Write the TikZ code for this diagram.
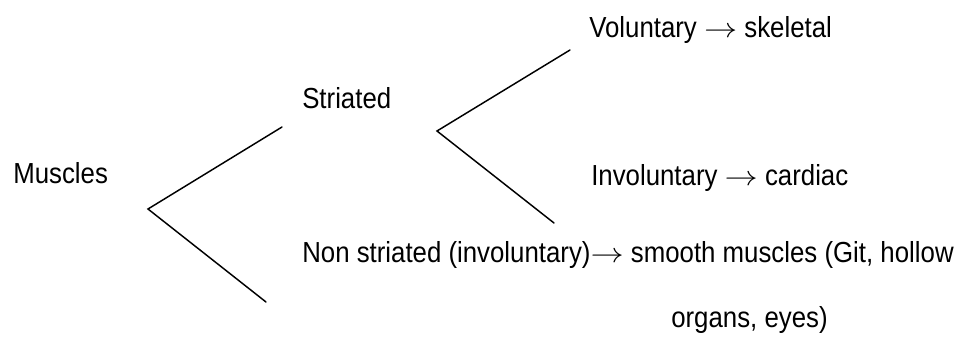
\documentclass[tikz,border=0pt]{standalone}
\usepackage{fontspec}
\setmainfont[FakeStretch=0.89]{Liberation Sans}
\usepackage{tikz}

\newcommand\toarrow{\scalebox{1.2}[1]{$\rightarrow$}}

\tikzset{
  label text/.style={anchor=base west, inner sep=0pt, font=\fontsize{21.75}{26}\selectfont},
  branch/.style={line width=1.1pt, line cap=round}
}

\begin{document}
\begin{tikzpicture}[x=0.75pt, y=-0.75pt]
\useasboundingbox (0,0) rectangle (962,339);

\node [label text] (muscles) at (13,183) {Muscles};
\node [label text] (striated) at (302,108) {Striated};
\node [label text] (nonstriated) at (302,262)
      {Non striated (involuntary)\toarrow{} smooth muscles (Git, hollow};
\node [label text] (organs) at (671,327) {organs, eyes)};
\node [label text] (voluntary) at (589,37) {Voluntary \toarrow{} skeletal};
\node [label text] (involuntary) at (591,185) {Involuntary \toarrow{} cardiac};

% first fork
\coordinate (fork1) at (148,209);
\coordinate (fork1 up) at (282,127);
\coordinate (fork1 down) at (266,302);
\draw [branch] (fork1 up) -- (fork1) -- (fork1 down);

% second fork
\coordinate (fork2) at (437,131);
\coordinate (fork2 up) at (570,50);
\coordinate (fork2 down) at (554,223);
\draw [branch] (fork2 up) -- (fork2) -- (fork2 down);
\end{tikzpicture}
\end{document}
